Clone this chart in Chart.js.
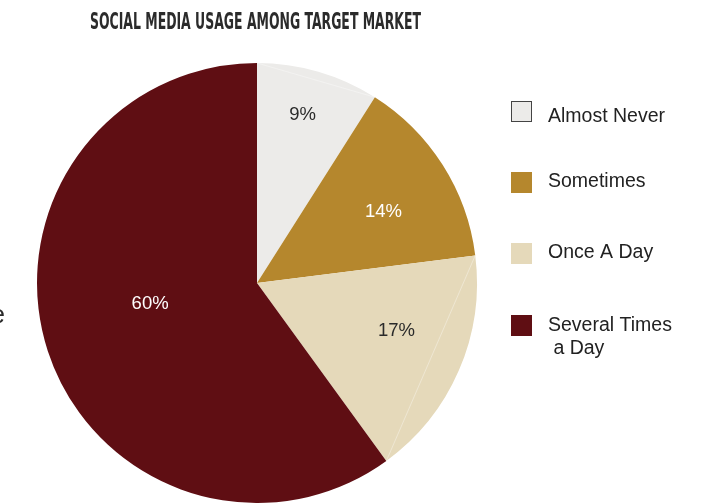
<!DOCTYPE html>
<html>
<head>
<meta charset="utf-8">
<script src="https://cdn.jsdelivr.net/npm/chart.js@4.4.0/dist/chart.umd.min.js"></script>
<style>
  html, body { margin: 0; padding: 0; background: #fff; }
  #wrap { position: relative; width: 716px; height: 503px; overflow: hidden; }
</style>
</head>
<body>
<div id="wrap"><canvas id="usageChart" width="716" height="503"></canvas></div>
<script>
const title = "SOCIAL MEDIA USAGE AMONG TARGET MARKET";
const categories = ["Almost Never", "Sometimes", "Once A Day", ["Several Times", " a Day"]];
const shares = [9, 14, 17, 60];
const sliceColors = ["#ECEBE9", "#B5872D", "#E5D9BA", "#5F0E13"];
const labelColors = ["#2a2a2a", "#ffffff", "#2a2a2a", "#ffffff"];

// label placement per slice: angle shift (deg) from slice middle, radius as fraction of outer radius
const labelPlace = [
  { shift: -1, r: 0.79 },
  { shift: 3, r: 0.66 },
  { shift: -4.5, r: 0.67 },
  { shift: 7, r: 0.495 },
];

// legend rows: top of each swatch, baseline of its first text line
const legendTops = [101, 172, 243, 315];
const legendBaselines = [122, 187, 258, 331];

const sliceText = {
  id: "sliceText",
  afterDatasetsDraw(chart) {
    const ctx = chart.ctx;
    const arcs = chart.getDatasetMeta(0).data;
    ctx.save();

    // faint seams along two of the chords
    ctx.strokeStyle = "rgba(255,255,255,0.35)";
    ctx.lineWidth = 1;
    [0, 2].forEach((i) => {
      const a = arcs[i];
      ctx.beginPath();
      ctx.moveTo(a.x + Math.cos(a.startAngle) * a.outerRadius, a.y + Math.sin(a.startAngle) * a.outerRadius);
      ctx.lineTo(a.x + Math.cos(a.endAngle) * a.outerRadius, a.y + Math.sin(a.endAngle) * a.outerRadius);
      ctx.stroke();
    });

    ctx.font = "18.5px 'Liberation Sans', Arial, sans-serif";
    ctx.textAlign = "center";
    ctx.textBaseline = "middle";
    arcs.forEach((a, i) => {
      const mid = (a.startAngle + a.endAngle) / 2 + (labelPlace[i].shift * Math.PI) / 180;
      const r = a.outerRadius * labelPlace[i].r;
      ctx.fillStyle = labelColors[i];
      ctx.fillText(shares[i] + "%", a.x + Math.cos(mid) * r, a.y + Math.sin(mid) * r);
    });
    ctx.restore();
  },
};

const sideLegend = {
  id: "sideLegend",
  afterDraw(chart) {
    const ctx = chart.ctx;
    ctx.save();

    // title, squeezed to a condensed look
    ctx.font = "bold 23.5px 'Liberation Sans Narrow', 'DejaVu Sans Condensed', sans-serif";
    ctx.fillStyle = "#2b2b2b";
    ctx.textBaseline = "alphabetic";
    const w = ctx.measureText(title).width;
    ctx.translate(90, 28.5);
    ctx.scale(331 / w, 1);
    ctx.fillText(title, 0, 0);
    ctx.setTransform(1, 0, 0, 1, 0, 0);

    // stray letter at the left edge
    ctx.font = "26px 'Liberation Sans', Arial, sans-serif";
    ctx.fillStyle = "#2a2a2a";
    ctx.fillText("e", -9.5, 323);

    // legend swatches and labels
    ctx.font = "19.5px 'Liberation Sans', Arial, sans-serif";
    categories.forEach((label, i) => {
      const top = legendTops[i];
      ctx.fillStyle = sliceColors[i];
      ctx.fillRect(511, top, 21, 21);
      if (i === 0) {
        ctx.strokeStyle = "#444";
        ctx.lineWidth = 1;
        ctx.strokeRect(511.5, top + 0.5, 20, 20);
      }
      ctx.fillStyle = "#222";
      const lines = Array.isArray(label) ? label : [label];
      lines.forEach((t, j) => ctx.fillText(t, 548, legendBaselines[i] + j * 23));
    });
    ctx.restore();
  },
};

new Chart(document.getElementById("usageChart"), {
  type: "pie",
  data: {
    labels: categories,
    datasets: [
      {
        data: shares,
        backgroundColor: sliceColors,
        borderWidth: 0,
      },
    ],
  },
  options: {
    responsive: false,
    animation: false,
    layout: { padding: { left: 37, right: 239, top: 63, bottom: 0 } },
    plugins: {
      legend: { display: false },
      tooltip: { enabled: false },
    },
  },
  plugins: [sliceText, sideLegend],
});
</script>
</body>
</html>
